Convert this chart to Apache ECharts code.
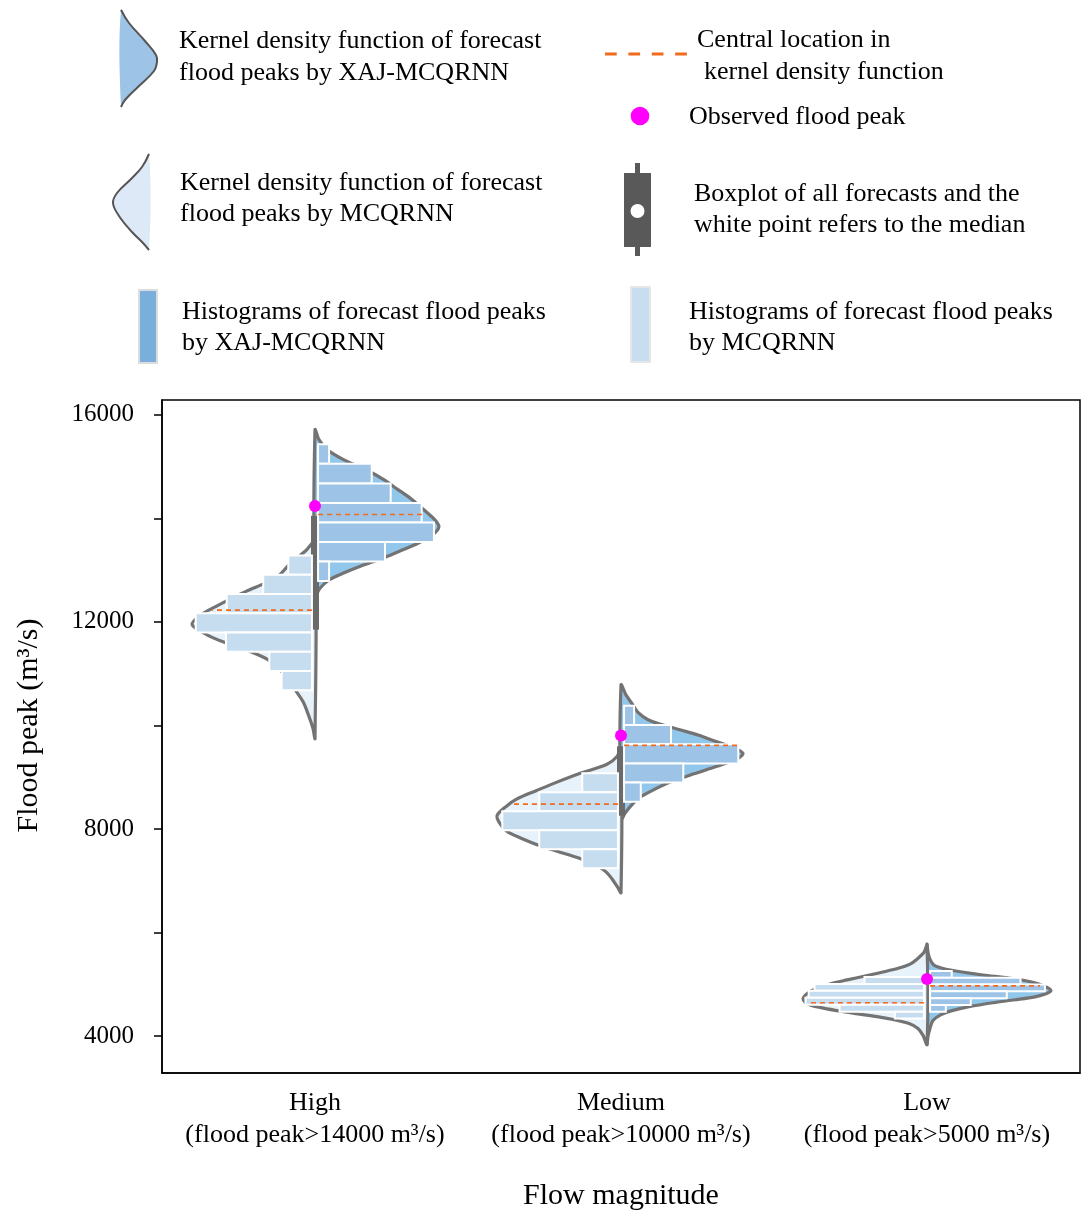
<!DOCTYPE html>
<html><head><meta charset="utf-8">
<script src="https://cdn.jsdelivr.net/npm/echarts@6/dist/echarts.min.js"></script>
<style>html,body{margin:0;padding:0;background:#fff}#chart{width:1083px;height:1216px}</style>
</head><body><div id="chart"></div>
<script>
// ---------------- DATA ----------------
const categories = ['High', 'Medium', 'Low'];
const categoryThresholds = ['(flood peak>14000 m³/s)', '(flood peak>10000 m³/s)', '(flood peak>5000 m³/s)'];
const yTickValues = [4000, 6000, 8000, 10000, 12000, 14000, 16000];
const yLabelValues = [4000, 8000, 12000, 16000];

// Kernel density curves (flood peak, relative density)
const kdeHighXajPeak = [15710, 15520, 15330, 15140, 14950, 14760, 14570, 14380, 14180, 13990, 13840, 13690, 13510, 13360, 13230, 13080, 12940, 12810, 12650, 12500];
const kdeHighXajDens = [0, 0.032, 0.097, 0.226, 0.403, 0.548, 0.661, 0.774, 0.871, 0.960, 1.0, 0.952, 0.823, 0.677, 0.548, 0.371, 0.226, 0.113, 0.040, 0];
const kdeHighMcqPeak = [13550, 13380, 13230, 13080, 12900, 12750, 12600, 12440, 12290, 12140, 11950, 11750, 11600, 11450, 11280, 11090, 10900, 10690, 10460, 10170, 9940, 9750];
const kdeHighMcqDens = [0, 0.073, 0.145, 0.218, 0.290, 0.403, 0.548, 0.685, 0.806, 0.919, 0.992, 0.871, 0.726, 0.548, 0.387, 0.290, 0.218, 0.161, 0.097, 0.048, 0.016, 0];
const kdeMedXajPeak = [10780, 10590, 10420, 10250, 10110, 10020, 9920, 9810, 9690, 9580, 9460, 9350, 9210, 9060, 8910, 8750, 8600, 8450, 8300, 8180];
const kdeMedXajDens = [0, 0.040, 0.089, 0.137, 0.218, 0.323, 0.468, 0.629, 0.766, 0.903, 0.984, 0.935, 0.774, 0.581, 0.403, 0.258, 0.145, 0.081, 0.032, 0];
const kdeMedMcqPeak = [9560, 9400, 9250, 9080, 8890, 8730, 8580, 8450, 8260, 8100, 7950, 7820, 7680, 7570, 7430, 7300, 7170, 7010, 6860, 6770];
const kdeMedMcqDens = [0, 0.032, 0.113, 0.323, 0.532, 0.694, 0.839, 0.919, 1.0, 0.976, 0.919, 0.806, 0.661, 0.516, 0.331, 0.202, 0.121, 0.065, 0.024, 0];
const kdeLowXajPeak = [5771, 5618, 5484, 5369, 5293, 5236, 5178, 5121, 5063, 5006, 4929, 4872, 4815, 4757, 4700, 4643, 4566, 4490, 4413, 4298, 4146, 3993, 3840];
const kdeLowXajDens = [0, 0.008, 0.024, 0.056, 0.145, 0.282, 0.452, 0.661, 0.806, 0.903, 0.976, 1.0, 0.960, 0.871, 0.710, 0.532, 0.339, 0.202, 0.113, 0.048, 0.024, 0.008, 0];
const kdeLowMcqPeak = [5752, 5618, 5484, 5388, 5312, 5236, 5159, 5083, 5006, 4910, 4815, 4719, 4624, 4547, 4490, 4433, 4375, 4318, 4241, 4146, 4012, 3840];
const kdeLowMcqDens = [0, 0.024, 0.081, 0.137, 0.226, 0.355, 0.5, 0.645, 0.782, 0.903, 0.968, 1.0, 0.968, 0.855, 0.726, 0.573, 0.403, 0.274, 0.145, 0.073, 0.032, 0];

// Histograms (bin edges, relative density per bin)
const histHighXajEdges = [15430, 15053, 14676, 14299, 13922, 13545, 13168, 12791];
const histHighXajDens = [0.089, 0.433, 0.586, 0.836, 0.935, 0.540, 0.089];
const histHighMcqEdges = [13285, 12913, 12541, 12169, 11797, 11425, 11053, 10681];
const histHighMcqDens = [0.191, 0.393, 0.688, 0.938, 0.694, 0.344, 0.244];
const histMedXajEdges = [10379, 10008, 9637, 9266, 8895, 8524];
const histMedXajDens = [0.081, 0.379, 0.922, 0.478, 0.135];
const histMedMcqEdges = [9078, 8711, 8344, 7977, 7610, 7243];
const histMedMcqDens = [0.288, 0.635, 0.933, 0.635, 0.288];
const histLowXajEdges = [5255, 5124, 4993, 4862, 4731, 4600, 4469];
const histLowXajDens = [0.175, 0.730, 0.927, 0.619, 0.328, 0.127];
const histLowMcqEdges = [5140, 5006, 4872, 4738, 4604, 4470, 4336];
const histLowMcqDens = [0.480, 0.883, 0.930, 0.956, 0.681, 0.234];

// Central locations of the KDEs (value, relative extent)
const centralXaj = [14075, 9614, 4968];
const centralXajDens = [0.839, 0.919, 0.887];
const centralMcq = [12227, 8480, 4643];
const centralMcqDens = [0.806, 0.863, 0.935];

// Observed flood peaks
const observedPeaks = [14241, 9805, 5102];

// Boxplot of all forecasts (lower / upper quartile)
const boxQ1 = [11851, 8256, null];
const boxQ3 = [14050, 9595, null];

// ---------------- STYLE ----------------
const FONT = '"Liberation Serif", "Times New Roman", serif';
const DENSITY_WIDTH = 0.405;  // band fraction at relative density 1
const BAR_GAP = 0.01;
const BOX_HALF = 0.013;
const OUTLINE = '#737373';
const XAJ_FILL = '#92c7ec', XAJ_BAR = '#9dc3e6';
const MCQ_FILL = '#e7f2fa', MCQ_BAR = '#c6dcef';
const CENTRAL_COLOR = '#f26b1d';

const sides = [
  {cat: 0, dir: 1, kdeV: kdeHighXajPeak, kdeD: kdeHighXajDens, edges: histHighXajEdges, hist: histHighXajDens, central: centralXaj[0], centralD: centralXajDens[0], fill: XAJ_FILL, bar: XAJ_BAR},
  {cat: 0, dir: -1, kdeV: kdeHighMcqPeak, kdeD: kdeHighMcqDens, edges: histHighMcqEdges, hist: histHighMcqDens, central: centralMcq[0], centralD: centralMcqDens[0], fill: MCQ_FILL, bar: MCQ_BAR},
  {cat: 1, dir: 1, kdeV: kdeMedXajPeak, kdeD: kdeMedXajDens, edges: histMedXajEdges, hist: histMedXajDens, central: centralXaj[1], centralD: centralXajDens[1], fill: XAJ_FILL, bar: XAJ_BAR},
  {cat: 1, dir: -1, kdeV: kdeMedMcqPeak, kdeD: kdeMedMcqDens, edges: histMedMcqEdges, hist: histMedMcqDens, central: centralMcq[1], centralD: centralMcqDens[1], fill: MCQ_FILL, bar: MCQ_BAR},
  {cat: 2, dir: 1, kdeV: kdeLowXajPeak, kdeD: kdeLowXajDens, edges: histLowXajEdges, hist: histLowXajDens, central: centralXaj[2], centralD: centralXajDens[2], fill: XAJ_FILL, bar: XAJ_BAR},
  {cat: 2, dir: -1, kdeV: kdeLowMcqPeak, kdeD: kdeLowMcqDens, edges: histLowMcqEdges, hist: histLowMcqDens, central: centralMcq[2], centralD: centralMcqDens[2], fill: MCQ_FILL, bar: MCQ_BAR}
];
const sideData = sides.map(s => [s.cat + 0.5, s.central]);

function renderKde(params, api) {
  const s = sides[params.dataIndex];
  const cx = s.cat + 0.5;
  const pts = s.kdeV.map((v, i) => api.coord([cx + s.dir * s.kdeD[i] * DENSITY_WIDTH, v]));
  return {type: 'polygon', shape: {points: pts, smooth: 0.3},
    style: {fill: s.fill, stroke: OUTLINE, lineWidth: 3.2, lineJoin: 'round'}};
}
function renderHist(params, api) {
  const s = sides[params.dataIndex];
  const cx = s.cat + 0.5;
  const children = s.hist.map((d, i) => {
    const p0 = api.coord([cx + s.dir * BAR_GAP, s.edges[i]]);
    const p1 = api.coord([cx + s.dir * (BAR_GAP + d * DENSITY_WIDTH), s.edges[i + 1]]);
    return {type: 'rect', shape: {x: Math.min(p0[0], p1[0]), y: Math.min(p0[1], p1[1]),
      width: Math.abs(p1[0] - p0[0]), height: Math.abs(p1[1] - p0[1])},
      style: {fill: s.bar, stroke: '#ffffff', lineWidth: 2}};
  });
  return {type: 'group', children};
}
function renderCentral(params, api) {
  const s = sides[params.dataIndex];
  const cx = s.cat + 0.5;
  const p0 = api.coord([cx + s.dir * BAR_GAP, s.central]);
  const p1 = api.coord([cx + s.dir * (BAR_GAP + s.centralD * DENSITY_WIDTH), s.central]);
  return {type: 'line', shape: {x1: p0[0], y1: p0[1], x2: p1[0], y2: p1[1]},
    style: {stroke: CENTRAL_COLOR, lineWidth: 1.6, lineDash: [5, 4]}};
}
function renderBox(params, api) {
  const i = params.dataIndex;
  if (boxQ1[i] == null) return null;
  const cx = i + 0.5;
  const p0 = api.coord([cx - BOX_HALF, boxQ3[i]]);
  const p1 = api.coord([cx + BOX_HALF, boxQ1[i]]);
  return {type: 'rect', shape: {x: p0[0], y: p0[1], width: p1[0] - p0[0], height: p1[1] - p0[1]},
    style: {fill: '#6a6a6a'}};
}

// ---------------- LEGEND (graphic) ----------------
const legendFont = '26px ' + FONT;
function txt(x, y, t) {
  return {type: 'text', x, y, style: {text: t, font: legendFont, fill: '#000', verticalAlign: 'middle', align: 'left'}};
}
const kdeIconA = [[121, 10], [129, 23], [145, 41], [156, 55], [157, 62], [154, 71], [139, 86], [125, 100], [121, 107]];
const kdeIconB = [[149, 154], [142, 167], [131, 179], [117, 193], [113, 203], [119, 216], [132, 232], [143, 243], [149, 250]];
const legendGraphics = [
  {type: 'polygon', shape: {points: kdeIconA, smooth: 0.4}, style: {fill: '#9dc3e6', stroke: null}},
  {type: 'polyline', shape: {points: kdeIconA, smooth: 0.4}, style: {fill: null, stroke: '#555', lineWidth: 2}},
  {type: 'polygon', shape: {points: kdeIconB, smooth: 0.4}, style: {fill: '#dde9f6', stroke: null}},
  {type: 'polyline', shape: {points: kdeIconB, smooth: 0.4}, style: {fill: null, stroke: '#555', lineWidth: 2}},
  {type: 'rect', shape: {x: 139, y: 290, width: 18, height: 73}, style: {fill: '#7aaedb', stroke: '#dcdcdc', lineWidth: 2}},
  {type: 'line', shape: {x1: 605, y1: 54, x2: 687, y2: 54}, style: {stroke: CENTRAL_COLOR, lineWidth: 3, lineDash: [11.7, 11.7]}},
  {type: 'circle', shape: {cx: 640, cy: 116, r: 9.3}, style: {fill: '#ff00ff'}},
  {type: 'line', shape: {x1: 637.5, y1: 163, x2: 637.5, y2: 256}, style: {stroke: '#595959', lineWidth: 5}},
  {type: 'rect', shape: {x: 624, y: 173, width: 27, height: 74}, style: {fill: '#595959'}},
  {type: 'circle', shape: {cx: 637.5, cy: 211, r: 7}, style: {fill: '#ffffff'}},
  {type: 'rect', shape: {x: 631, y: 287, width: 19, height: 75}, style: {fill: '#c9ddf0', stroke: '#e6e6e6', lineWidth: 2}},
  txt(179, 41, 'Kernel density function of forecast'),
  txt(179, 73, 'flood peaks by XAJ-MCQRNN'),
  txt(180, 183, 'Kernel density function of forecast'),
  txt(180, 214, 'flood peaks by MCQRNN'),
  txt(182, 312, 'Histograms of forecast flood peaks'),
  txt(182, 343, 'by XAJ-MCQRNN'),
  txt(697, 40, 'Central location in'),
  txt(704, 72, 'kernel density function'),
  txt(689, 117, 'Observed flood peak'),
  txt(694, 194, 'Boxplot of all forecasts and the'),
  txt(694, 225, 'white point refers to the median'),
  txt(689, 312, 'Histograms of forecast flood peaks'),
  txt(689, 343, 'by MCQRNN')
];

// ---------------- CHART ----------------
const chart = echarts.init(document.getElementById('chart'), null, {renderer: 'canvas'});
chart.setOption({
  animation: false,
  backgroundColor: '#ffffff',
  grid: {left: 162, top: 400, width: 918, height: 680, show: true, borderColor: '#000', borderWidth: 1.5, backgroundColor: 'transparent'},
  xAxis: [
    {type: 'category', data: categories, boundaryGap: true,
      axisLine: {lineStyle: {color: '#000', width: 1.5}},
      axisTick: {alignWithLabel: true, length: 7, lineStyle: {color: '#000', width: 1.5}},
      axisLabel: {interval: 0, margin: 14, fontFamily: FONT, fontSize: 26, color: '#000', lineHeight: 32,
        formatter: (v, i) => v + '\n' + categoryThresholds[i]},
      name: 'Flow magnitude', nameLocation: 'middle', nameGap: 108,
      nameTextStyle: {fontFamily: FONT, fontSize: 30, color: '#000'}},
    {type: 'value', min: 0, max: 3, show: false}
  ],
  yAxis: {type: 'value', min: 3285, max: 16287, splitLine: {show: false},
    axisLine: {show: true, lineStyle: {color: '#000', width: 1.5}},
    axisTick: {show: true, length: 8, customValues: yTickValues, lineStyle: {color: '#000', width: 1.5}},
    axisLabel: {margin: 28, fontFamily: FONT, fontSize: 25, color: '#000', customValues: yLabelValues,
      formatter: v => String(v)},
    name: 'Flood peak (m³/s)', nameLocation: 'middle', nameGap: 118,
    nameTextStyle: {fontFamily: FONT, fontSize: 30, color: '#000', padding: [0, 0, 0, 22]}},
  series: [
    {type: 'custom', name: 'KDE', xAxisIndex: 1, yAxisIndex: 0, renderItem: renderKde, data: sideData, z: 1, silent: true},
    {type: 'custom', name: 'Boxplot', xAxisIndex: 1, yAxisIndex: 0, renderItem: renderBox,
      data: categories.map((c, i) => [i + 0.5, boxQ1[i] == null ? 0 : boxQ1[i], boxQ3[i] == null ? 0 : boxQ3[i]]), z: 2, silent: true},
    {type: 'custom', name: 'Histogram', xAxisIndex: 1, yAxisIndex: 0, renderItem: renderHist, data: sideData, z: 3, silent: true},
    {type: 'custom', name: 'Central location', xAxisIndex: 1, yAxisIndex: 0, renderItem: renderCentral, data: sideData, z: 4, silent: true},
    {type: 'scatter', name: 'Observed flood peak', xAxisIndex: 0, yAxisIndex: 0,
      data: observedPeaks.map((v, i) => [i, v]), symbolSize: 12, itemStyle: {color: '#ff00ff', opacity: 1}, z: 5}
  ],
  graphic: legendGraphics
});
</script></body></html>
